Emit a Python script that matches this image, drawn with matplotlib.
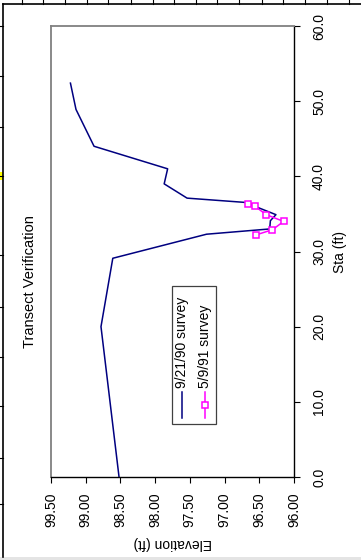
"""Transect verification: elevation vs station, drawn in the rotated page layout."""

from matplotlib import pyplot
from matplotlib.lines import Line2D
from matplotlib.patches import Rectangle

# Survey data.
sta_1990 = [0.0, 20.0, 29.1, 32.3, 33.0, 34.1, 34.9, 36.0, 36.5, 37.1,
            39.0, 41.0, 44.0, 48.9, 52.4]
elev_1990 = [98.52, 98.78, 98.61, 97.26, 96.35, 96.34, 96.26, 96.56, 96.66,
             97.54, 97.87, 97.82, 98.88, 99.14, 99.22]
sta_1991 = [36.3, 36.0, 34.9, 34.0, 32.9, 32.2]
elev_1991 = [96.66, 96.56, 96.40, 96.15, 96.31, 96.55]

sta_ticks = [0, 10, 20, 30, 40, 50, 60]
elev_ticks = [99.5, 99.0, 98.5, 98.0, 97.5, 97.0, 96.5, 96.0]
labels = ['9/21/90 survey', '5/9/91 survey']
title = 'Transect Verification'

W, H = 361, 560
navy = '#000080'
magenta = '#FF00FF'


def fx(x):
    return x / W


def fy(y):
    return 1.0 - y / H


pyplot.rc('font', family=['Liberation Sans', 'DejaVu Sans'], size=10)
fig = pyplot.figure(figsize=(W / 100, H / 100), dpi=100)
ax = fig.add_axes([fx(51), fy(477), fx(294) - fx(51), fy(26) - fy(477)])

# The chart is turned a quarter turn: elevation runs across, station upward.
ax.plot(elev_1990, sta_1990, color=navy, linewidth=1.1, label=labels[0])
ax.plot(elev_1991, sta_1991, color=magenta, linewidth=1.1, marker='s',
        markersize=4.5, markerfacecolor='white', markeredgecolor=magenta,
        markeredgewidth=1.1, label=labels[1])
ax.set_xlim(99.5, 96.0)
ax.set_ylim(0, 60)

ax.yaxis.tick_right()
ax.set_yticks(sta_ticks)
ax.set_yticklabels([f'{v:.1f}' for v in sta_ticks], rotation=90, va='center')
ax.set_xticks(elev_ticks)
ax.set_xticklabels([f'{v:.2f}' for v in elev_ticks], rotation=90)
ax.tick_params(axis='y', direction='out', length=4, width=0.8, pad=9,
               labelsize=10, colors='black')
ax.tick_params(axis='x', direction='out', length=4, width=0.8, pad=7,
               labelsize=10, colors='black')
for side in ['left', 'top']:
    ax.spines[side].set_color('#808080')
    ax.spines[side].set_linewidth(1.3)
for side in ['right', 'bottom']:
    ax.spines[side].set_color('black')
    ax.spines[side].set_linewidth(1.0)

# Titles, rotated with the page.
fig.text(fx(30), fy(282), title, rotation=90, ha='center', va='center',
         fontsize=10.5)
fig.text(fx(340), fy(252), 'Sta (ft)', rotation=90, ha='center', va='center')
fig.text(fx(173), fy(543), 'Elevation (ft)', rotation=180, ha='center',
         va='center')

# Legend box with rotated entries.
box = Rectangle((fx(172), fy(424)), fx(216) - fx(172), fy(286) - fy(424),
                transform=fig.transFigure, facecolor='white',
                edgecolor='#404040', linewidth=0.9)
fig.add_artist(box)
for i, (lab, col) in enumerate(zip(labels, [navy, magenta])):
    xc = fx(182 + 23 * i)
    fig.add_artist(Line2D([xc, xc], [fy(418), fy(392)], color=col,
                          linewidth=1.1, transform=fig.transFigure))
    if i == 1:
        fig.add_artist(Line2D([xc], [fy(405)], color=col, marker='s',
                              markersize=4.5, markerfacecolor='white',
                              markeredgecolor=col, markeredgewidth=1.1,
                              transform=fig.transFigure))
    fig.text(xc, fy(388), lab, rotation=90, ha='center', va='bottom')

# Sheet frame around the chart.
fig.add_artist(Line2D([fx(3.5), fx(3.5)], [fy(3.5), fy(557)], color='black',
                      linewidth=1.2, transform=fig.transFigure))
fig.add_artist(Line2D([fx(3.5), 1.0], [fy(3.5), fy(3.5)], color='black',
                      linewidth=1.2, transform=fig.transFigure))
fig.add_artist(Rectangle((0, 0), 1.0, fy(557), transform=fig.transFigure,
                         facecolor='#e4e4e4', edgecolor='none'))
for x in [21.7, 42.7, 65, 86.7, 108, 130.7, 152.7, 174, 196, 217, 239, 262,
          283, 305, 327, 349]:
    fig.add_artist(Line2D([fx(x), fx(x)], [fy(0), fy(3.5)], color='black',
                          linewidth=0.8, transform=fig.transFigure))
for y in [25.7, 76, 126.7, 175.7, 255, 306.7, 356.7, 405.7, 457.7, 504]:
    fig.add_artist(Line2D([fx(0), fx(3.5)], [fy(y), fy(y)], color='black',
                          linewidth=0.8, transform=fig.transFigure))
fig.add_artist(Rectangle((0, fy(180)), fx(3), fy(172) - fy(180),
                         transform=fig.transFigure, facecolor='#FFFF00',
                         edgecolor='none'))

fig.savefig('out.png', dpi=100)
